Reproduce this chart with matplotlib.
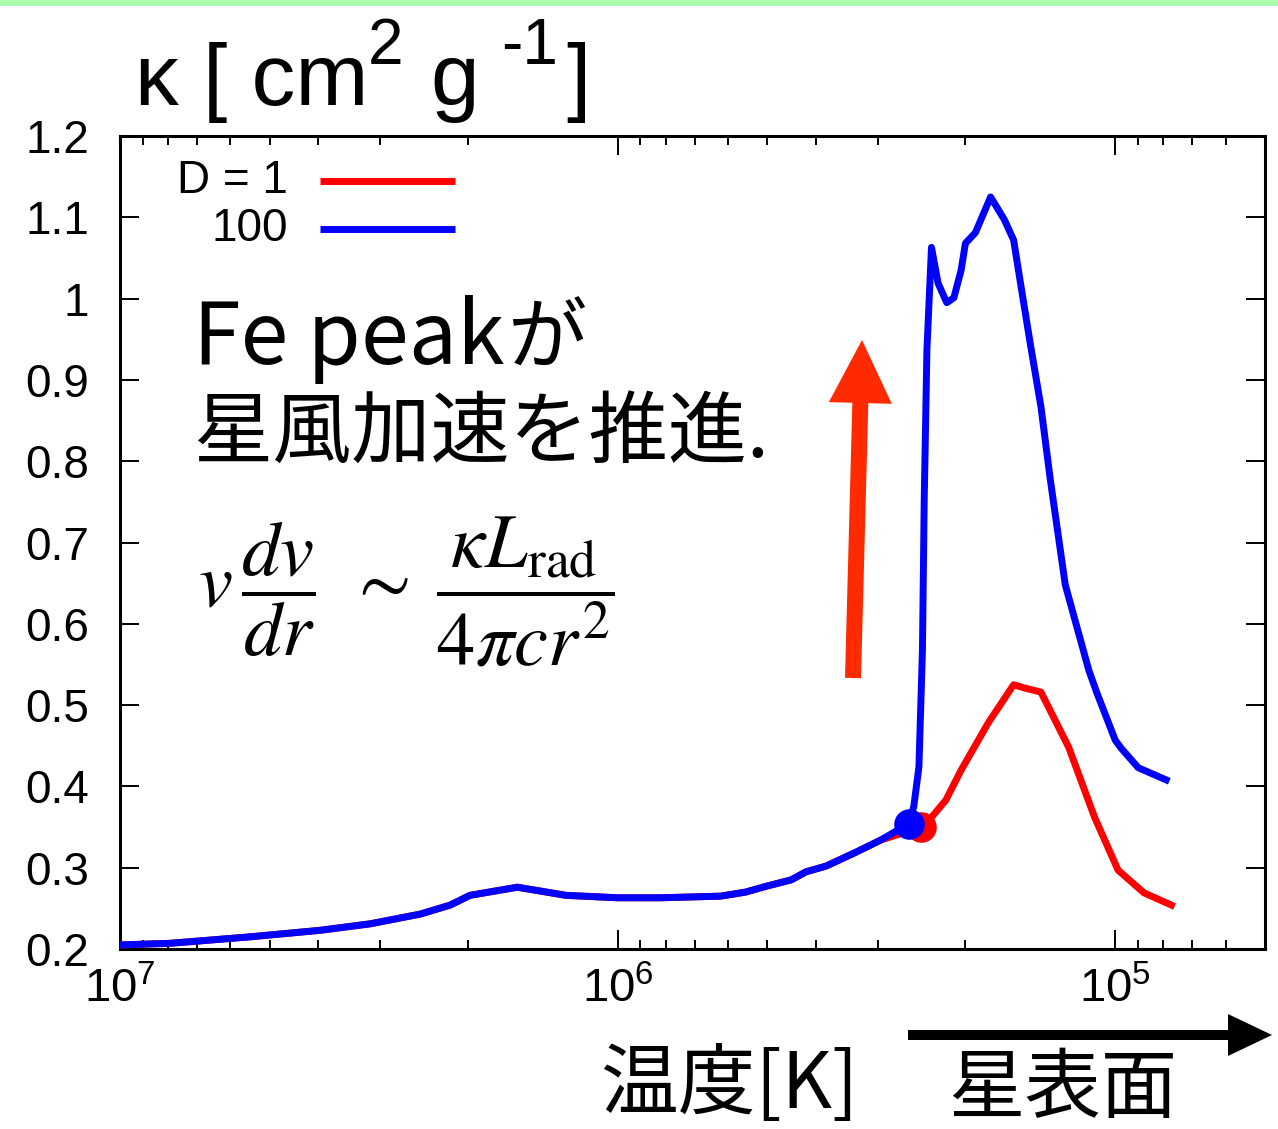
import numpy as np
import matplotlib
matplotlib.use("Agg")
import matplotlib.pyplot as plt
from matplotlib.patches import FancyArrow, Rectangle
from matplotlib.ticker import FixedLocator, LogLocator, NullFormatter

plt.rcParams['font.family'] = ['Liberation Sans', 'DejaVu Sans']
plt.rcParams['mathtext.fontset'] = 'custom'
plt.rcParams['mathtext.rm'] = 'Liberation Sans'
plt.rcParams['mathtext.it'] = 'Liberation Sans:italic'

# Opacity kappa [cm^2 g^-1] against temperature [K]
T_d1 = [1.00e7, 7.93e6, 5.47e6, 3.96e6, 3.14e6, 2.49e6, 2.17e6, 1.98e6, 1.59e6,
        1.27e6, 1.00e6, 8.19e5, 6.21e5, 5.53e5, 5.04e5, 4.48e5, 4.18e5, 3.81e5,
        3.32e5, 2.96e5, 2.60e5, 2.46e5, 2.34e5, 2.19e5, 2.04e5, 1.80e5, 1.60e5,
        1.52e5, 1.41e5, 1.24e5, 1.10e5, 9.87e4, 8.75e4, 7.71e4]
kappa_d1 = [0.205, 0.207, 0.215, 0.223, 0.231, 0.243, 0.254, 0.266, 0.276,
            0.266, 0.263, 0.263, 0.265, 0.270, 0.277, 0.285, 0.295, 0.302,
            0.319, 0.334, 0.345, 0.350, 0.362, 0.383, 0.420, 0.478, 0.525,
            0.521, 0.516, 0.448, 0.362, 0.297, 0.269, 0.254]

T_d100 = [1.00e7, 7.93e6, 5.47e6, 3.96e6, 3.14e6, 2.49e6, 2.17e6, 1.98e6, 1.59e6,
          1.27e6, 1.00e6, 8.19e5, 6.21e5, 5.53e5, 5.04e5, 4.48e5, 4.18e5, 3.81e5,
          3.32e5, 2.96e5, 2.60e5, 2.54e5, 2.48e5, 2.44e5, 2.42e5, 2.39e5, 2.34e5,
          2.27e5, 2.18e5, 2.11e5, 2.04e5, 2.00e5, 1.91e5, 1.78e5, 1.67e5, 1.60e5,
          1.55e5, 1.48e5, 1.41e5, 1.35e5, 1.26e5, 1.13e5, 1.09e5, 1.00e5, 9.73e4,
          8.99e4, 7.90e4]
kappa_d100 = [0.205, 0.207, 0.215, 0.223, 0.231, 0.243, 0.254, 0.266, 0.276,
              0.266, 0.263, 0.263, 0.265, 0.270, 0.277, 0.285, 0.295, 0.302,
              0.319, 0.334, 0.354, 0.375, 0.424, 0.568, 0.752, 0.937, 1.063,
              1.019, 0.995, 1.001, 1.035, 1.068, 1.081, 1.125, 1.097, 1.072,
              1.019, 0.943, 0.867, 0.777, 0.648, 0.543, 0.516, 0.457, 0.447,
              0.423, 0.408]

# index of the highlighted point on each curve
mark_d1 = 21
mark_d100 = 20

legend_labels = ['D = 1', '100']
ytick_vals = [0.2, 0.3, 0.4, 0.5, 0.6, 0.7, 0.8, 0.9, 1.0, 1.1, 1.2]
ytick_labels = ['0.2', '0.3', '0.4', '0.5', '0.6', '0.7', '0.8', '0.9', '1', '1.1', '1.2']
xtick_vals = [1e7, 1e6, 1e5]
xtick_labels = [r'$10^{7}$', r'$10^{6}$', r'$10^{5}$']

W, H = 1278, 1129
fig = plt.figure(figsize=(W / 100, H / 100), dpi=100)
ax = fig.add_axes([120 / W, 1 - 949 / H, 1145 / W, 813 / H])

lw = 5.0
ax.plot(T_d1, kappa_d1, color='#ff0000', lw=lw, solid_joinstyle='round', zorder=3)
ax.plot(T_d100, kappa_d100, color='#0000ff', lw=lw, solid_joinstyle='round', zorder=4)
ax.plot([T_d1[mark_d1]], [kappa_d1[mark_d1]], 'o', color='#ff0000', ms=22, mew=0, zorder=5)
ax.plot([T_d100[mark_d100]], [kappa_d100[mark_d100]], 'o', color='#0000ff', ms=22, mew=0, zorder=6)

ax.set_xscale('log')
ax.set_xlim(1e7, 5e4)
ax.set_ylim(0.2, 1.2)
ax.xaxis.set_major_locator(FixedLocator(xtick_vals))
ax.set_xticklabels(xtick_labels)
ax.xaxis.set_minor_locator(LogLocator(base=10, subs=np.arange(2, 10)))
ax.xaxis.set_minor_formatter(NullFormatter())
ax.set_yticks(ytick_vals)
ax.set_yticklabels(ytick_labels)

for s in ax.spines.values():
    s.set_linewidth(2.2)
ax.tick_params(which='both', direction='in', top=True, right=True, width=1.4)
ax.tick_params(axis='y', labelsize=33, pad=22)
ax.tick_params(axis='x', labelsize=34, pad=13)
ax.tick_params(which='major', length=14)
ax.tick_params(which='minor', length=6.5)

# key drawn gnuplot-style: right-aligned labels followed by sample lines
for lab, col, yk in zip(legend_labels, ['#ff0000', '#0000ff'], [0.9446, 0.8856]):
    ax.text(0.1467, yk, lab, transform=ax.transAxes, ha='right', va='center', fontsize=33)
    ax.plot([0.1747, 0.2926], [yk, yk], transform=ax.transAxes, color=col, lw=lw,
            solid_capstyle='butt')

# pixel-space overlay for annotations
ov = fig.add_axes([0, 0, 1, 1], zorder=10)
ov.set_xlim(0, W)
ov.set_ylim(H, 0)
ov.axis('off')

ov.add_patch(Rectangle((0, 0), W, 6, color='#adfbad', lw=0))

# axis title
ov.text(135, 105, 'κ [ cm', fontsize=63, ha='left', va='baseline')
ov.text(368, 64, '2', fontsize=46, ha='left', va='baseline')
ov.text(430, 105, 'g', fontsize=63, ha='left', va='baseline')
ov.text(501, 64, '-1', fontsize=46, ha='left', va='baseline')
ov.text(566, 105, ']', fontsize=63, ha='left', va='baseline')

jp = ['Noto Sans CJK JP', 'DejaVu Sans']
ov.text(193, 364, 'Fe peak', family=jp, fontsize=62, ha='left', va='baseline')
ov.text(508, 364, 'が', family=jp, fontsize=57, ha='left', va='baseline')
ov.text(193, 457, '星風加速を推進.', family=jp, fontsize=57, ha='left', va='baseline')

ov.text(198, 592,
        r'$v\,\dfrac{dv}{dr}\;\,\sim\;\dfrac{\kappa L_{\mathrm{rad}}}{4\pi c r^{2}}$',
        math_fontfamily='stix', fontsize=55, ha='left', va='center')

ov.add_patch(FancyArrow(853, 678, 9, -338, width=16, head_width=63, head_length=63,
                        length_includes_head=True, color='#ff2a00', lw=0))
ov.add_patch(FancyArrow(908, 1035, 364, 0, width=10, head_width=42, head_length=44,
                        length_includes_head=True, color='black', lw=0))

ov.text(600, 1108, '温度[K]', family=jp, fontsize=56, ha='left', va='baseline')
ov.text(948, 1112, '星表面', family=jp, fontsize=55, ha='left', va='baseline')

fig.savefig('out.png', dpi=100, facecolor='white')
